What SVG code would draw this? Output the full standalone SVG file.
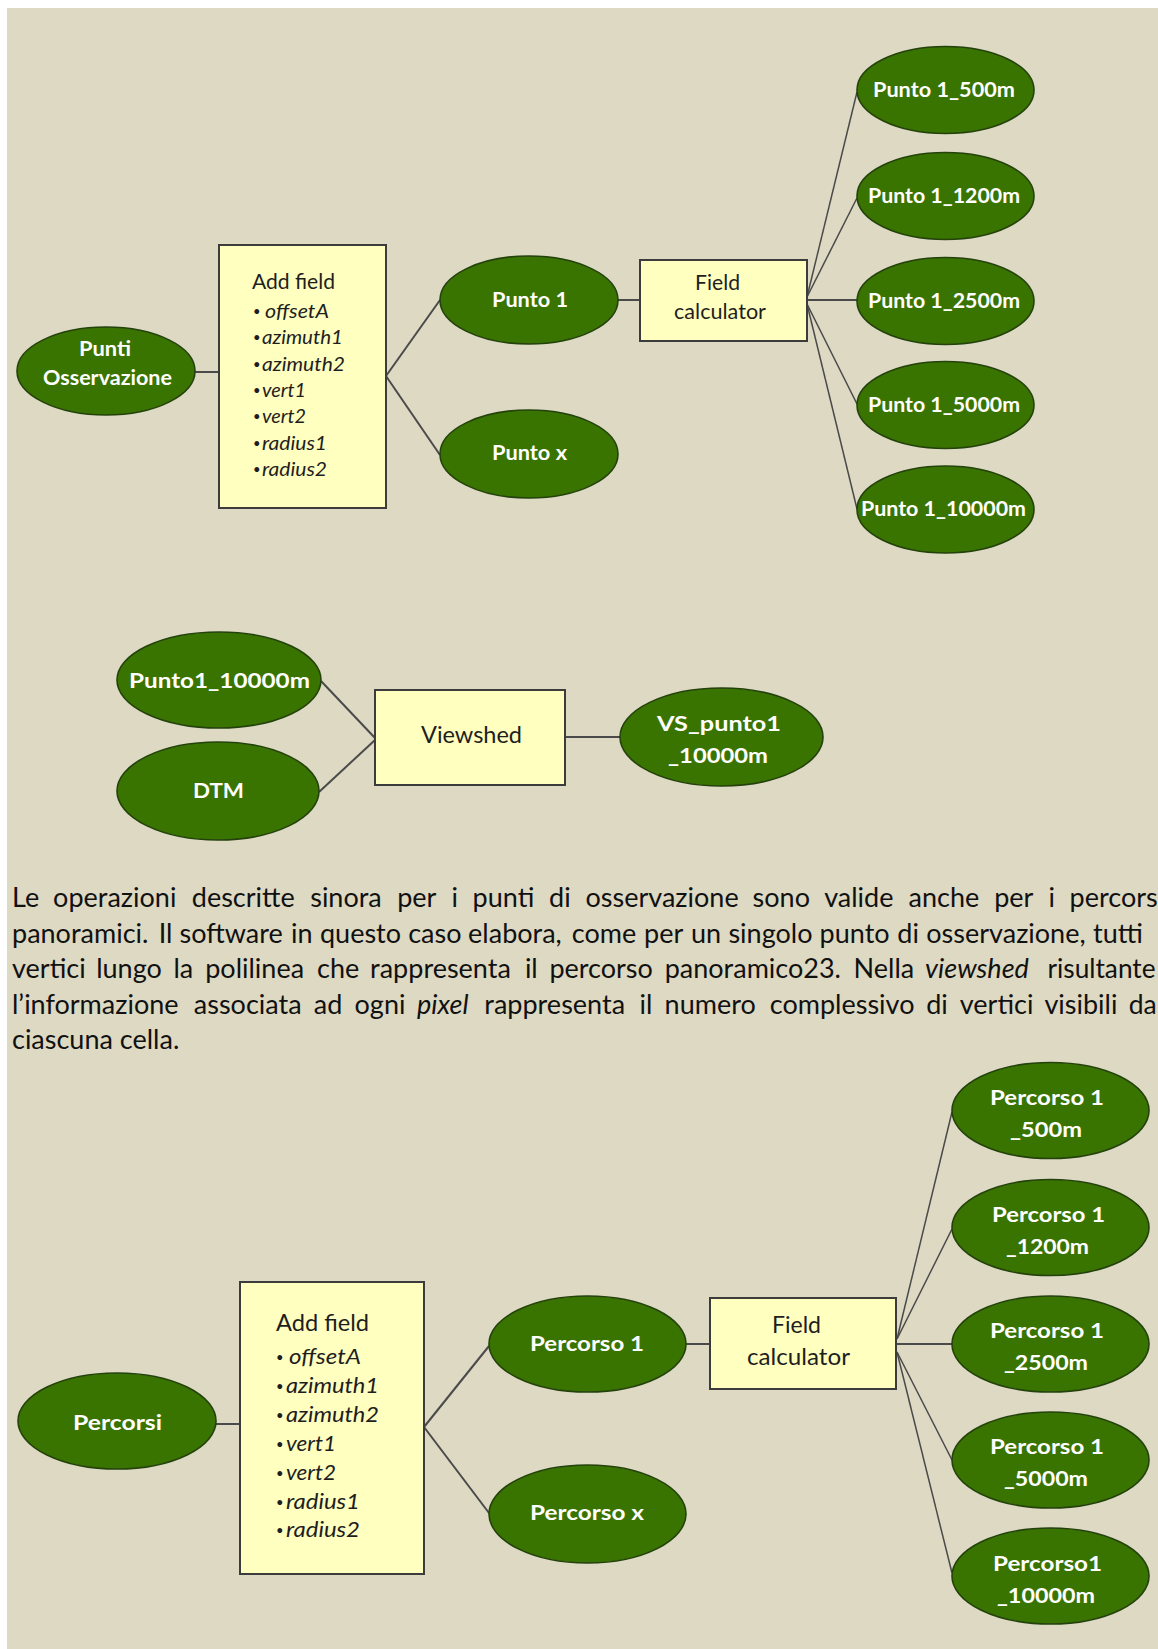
<svg xmlns="http://www.w3.org/2000/svg" width="1158" height="1649" viewBox="0 0 1158 1649">
<defs>
<style>
.bg{fill:#DDD9C3}
.ell{fill:#3A7400;stroke:#24420C;stroke-width:1.6}
.box{fill:#FFFFC0;stroke:#3C3C3C;stroke-width:2}
.lbl{font-family:Lato,"Open Sans",sans-serif;font-weight:bold;fill:#FFFFFF;font-size:20px}
.lbl2{font-family:Lato,"Open Sans",sans-serif;font-weight:bold;fill:#FFFFFF;font-size:21px}
.btxt{font-family:Lato,"Open Sans",sans-serif;fill:#1E1E1E;font-size:21px}
.btxt2{font-family:Lato,"Open Sans",sans-serif;fill:#1E1E1E;font-size:23px}
.li{font-family:Lato,"Open Sans",sans-serif;fill:#1E1E1E;font-size:19.5px}
.li2{font-family:Lato,"Open Sans",sans-serif;fill:#1E1E1E;font-size:22px}
.bu{font-size:13px}
.it{font-style:italic}
.par{font-family:Lato,"Open Sans",sans-serif;fill:#111111;font-size:27px}
.con{stroke:#4A4A4A;stroke-width:2;fill:none}
.fan{stroke:#4A4A4A;stroke-width:1.5;fill:none}
</style>
</defs>
<rect x="0" y="0" width="1158" height="1649" fill="#FFFFFF"/>
<rect class="bg" x="7" y="8" width="1151" height="1641"/>

<g id="connectors">
<line class="con" x1="195" y1="372" x2="219" y2="372"/>
<line class="con" x1="386" y1="376" x2="440" y2="300"/>
<line class="con" x1="386" y1="376" x2="440" y2="455"/>
<line class="con" x1="618" y1="300" x2="640" y2="300"/>
<line class="fan" x1="807" y1="297" x2="857" y2="92"/>
<line class="fan" x1="807" y1="297" x2="857" y2="198"/>
<line class="con" x1="807" y1="300" x2="857" y2="300"/>
<line class="fan" x1="807" y1="304" x2="857" y2="404"/>
<line class="fan" x1="807" y1="304" x2="857" y2="509"/>

<line class="con" x1="321" y1="681" x2="375" y2="738"/>
<line class="con" x1="319" y1="792" x2="375" y2="740"/>
<line class="con" x1="565" y1="737" x2="620" y2="737"/>

<line class="con" x1="216" y1="1424" x2="240" y2="1424"/>
<line class="con" x1="424" y1="1427" x2="489" y2="1346"/>
<line class="con" x1="424" y1="1427" x2="489" y2="1513"/>
<line class="con" x1="686" y1="1344" x2="710" y2="1344"/>
<line class="fan" x1="897" y1="1339" x2="952" y2="1112"/>
<line class="fan" x1="897" y1="1339" x2="952" y2="1229"/>
<line class="con" x1="896" y1="1344" x2="952" y2="1344"/>
<line class="fan" x1="897" y1="1352" x2="952" y2="1460"/>
<line class="fan" x1="897" y1="1352" x2="952" y2="1573"/>
</g>

<!-- Top diagram -->
<g id="punti-osservazione">
<ellipse class="ell" cx="106" cy="371" rx="89" ry="44"/>
<text class="lbl" x="79" y="356" textLength="52" lengthAdjust="spacingAndGlyphs">Punti</text>
<text class="lbl" x="43" y="385" textLength="129" lengthAdjust="spacingAndGlyphs">Osservazione</text>
</g>
<g id="add-field-1">
<rect class="box" x="219" y="245" width="167" height="263"/>
<text class="btxt" x="252" y="289" textLength="83" lengthAdjust="spacingAndGlyphs">Add field</text>
<text class="li"><tspan class="bu" x="253" y="316">•</tspan><tspan class="it" x="265" y="318" textLength="64" lengthAdjust="spacingAndGlyphs">offsetA</tspan></text>
<text class="li"><tspan class="bu" x="253" y="342.3">•</tspan><tspan class="it" x="262" y="344.3" textLength="81" lengthAdjust="spacingAndGlyphs">azimuth1</tspan></text>
<text class="li"><tspan class="bu" x="253" y="368.6">•</tspan><tspan class="it" x="262" y="370.6" textLength="83" lengthAdjust="spacingAndGlyphs">azimuth2</tspan></text>
<text class="li"><tspan class="bu" x="253" y="394.9">•</tspan><tspan class="it" x="262" y="396.9" textLength="44" lengthAdjust="spacingAndGlyphs">vert1</tspan></text>
<text class="li"><tspan class="bu" x="253" y="421.2">•</tspan><tspan class="it" x="262" y="423.2" textLength="44" lengthAdjust="spacingAndGlyphs">vert2</tspan></text>
<text class="li"><tspan class="bu" x="253" y="447.5">•</tspan><tspan class="it" x="262" y="449.5" textLength="65" lengthAdjust="spacingAndGlyphs">radius1</tspan></text>
<text class="li"><tspan class="bu" x="253" y="473.8">•</tspan><tspan class="it" x="262" y="475.8" textLength="65" lengthAdjust="spacingAndGlyphs">radius2</tspan></text>
</g>
<g id="punto-1">
<ellipse class="ell" cx="529" cy="300" rx="89" ry="44"/>
<text class="lbl" x="492" y="307" textLength="76" lengthAdjust="spacingAndGlyphs">Punto 1</text>
</g>
<g id="punto-x">
<ellipse class="ell" cx="529" cy="454" rx="89" ry="44"/>
<text class="lbl" x="492" y="460" textLength="75" lengthAdjust="spacingAndGlyphs">Punto x</text>
</g>
<g id="field-calculator-1">
<rect class="box" x="640" y="260" width="167" height="81"/>
<text class="btxt" x="695" y="290" textLength="45" lengthAdjust="spacingAndGlyphs">Field</text>
<text class="btxt" x="674" y="319" textLength="92" lengthAdjust="spacingAndGlyphs">calculator</text>
</g>
<g id="punto1-500m">
<ellipse class="ell" cx="945.5" cy="90" rx="88.5" ry="43.5"/>
<text class="lbl" x="873" y="96.5" textLength="142" lengthAdjust="spacingAndGlyphs">Punto 1_500m</text>
</g>
<g id="punto1-1200m">
<ellipse class="ell" cx="945.5" cy="196" rx="88.5" ry="43.5"/>
<text class="lbl" x="868" y="202.5" textLength="152" lengthAdjust="spacingAndGlyphs">Punto 1_1200m</text>
</g>
<g id="punto1-2500m">
<ellipse class="ell" cx="945.5" cy="301" rx="88.5" ry="43.5"/>
<text class="lbl" x="868" y="307.5" textLength="152" lengthAdjust="spacingAndGlyphs">Punto 1_2500m</text>
</g>
<g id="punto1-5000m">
<ellipse class="ell" cx="945.5" cy="405" rx="88.5" ry="43.5"/>
<text class="lbl" x="868" y="411.5" textLength="152" lengthAdjust="spacingAndGlyphs">Punto 1_5000m</text>
</g>
<g id="punto1-10000m">
<ellipse class="ell" cx="945.5" cy="509.5" rx="88.5" ry="43.5"/>
<text class="lbl" x="861" y="516" textLength="165" lengthAdjust="spacingAndGlyphs">Punto 1_10000m</text>
</g>

<!-- Middle diagram -->
<g id="punto1-10000m-input">
<ellipse class="ell" cx="219" cy="680" rx="102" ry="48"/>
<text class="lbl" x="129" y="688" textLength="181" lengthAdjust="spacingAndGlyphs">Punto1_10000m</text>
</g>
<g id="dtm">
<ellipse class="ell" cx="218" cy="791" rx="101" ry="49"/>
<text class="lbl" x="193" y="798" textLength="51" lengthAdjust="spacingAndGlyphs">DTM</text>
</g>
<g id="viewshed">
<rect class="box" x="375" y="690" width="190" height="95"/>
<text class="btxt2" x="421" y="743" textLength="101" lengthAdjust="spacingAndGlyphs">Viewshed</text>
</g>
<g id="vs-punto1">
<ellipse class="ell" cx="721.5" cy="737" rx="101.5" ry="49"/>
<text class="lbl" x="657" y="731" textLength="124" lengthAdjust="spacingAndGlyphs">VS_punto1</text>
<text class="lbl" x="668" y="763" textLength="100" lengthAdjust="spacingAndGlyphs">_10000m</text>
</g>

<!-- Paragraph -->
<g id="paragraph">
<text class="par"><tspan x="12" y="907">Le</tspan><tspan x="53.1">operazioni</tspan><tspan x="191.8">descritte</tspan><tspan x="310.2">sinora</tspan><tspan x="397.2">per</tspan><tspan x="451.5">i</tspan><tspan x="472.6">punti</tspan><tspan x="549.1">di</tspan><tspan x="585.5">osservazione</tspan><tspan x="752.6">sono</tspan><tspan x="824.2">valide</tspan><tspan x="908.6">anche</tspan><tspan x="994.2">per</tspan><tspan x="1048.5">i</tspan><tspan x="1069.6">percors</tspan></text>
<text class="par"><tspan x="12" y="942.5">panoramici.</tspan><tspan x="158.7">Il</tspan><tspan x="179.6">software</tspan><tspan x="291">in</tspan><tspan x="320">questo</tspan><tspan x="408.2">caso</tspan><tspan x="468.1">elabora,</tspan><tspan x="571.8">come</tspan><tspan x="644.1">per</tspan><tspan x="690.9">un</tspan><tspan x="728.4">singolo</tspan><tspan x="819.6">punto</tspan><tspan x="897.3">di</tspan><tspan x="926.3">osservazione,</tspan><tspan x="1093.1">tutti</tspan></text>
<text class="par"><tspan x="12" y="978">vertici</tspan><tspan x="96.2">lungo</tspan><tspan x="173.5">la</tspan><tspan x="205.2">polilinea</tspan><tspan x="317">che</tspan><tspan x="370.1">rappresenta</tspan><tspan x="524.9">il</tspan><tspan x="549.4">percorso</tspan><tspan x="664.7">panoramico23.</tspan><tspan x="853.6">Nella</tspan><tspan class="it" x="925.1">viewshed</tspan><tspan x="1047.5" textLength="108" lengthAdjust="spacingAndGlyphs">risultante</tspan></text>
<text class="par"><tspan x="12" y="1013.5">l’informazione</tspan><tspan x="193.8">associata</tspan><tspan x="313.8">ad</tspan><tspan x="354.6">ogni</tspan><tspan class="it" x="417.1">pixel</tspan><tspan x="484.3">rappresenta</tspan><tspan x="639.6">il</tspan><tspan x="664.6">numero</tspan><tspan x="769.8">complessivo</tspan><tspan x="926.2">di</tspan><tspan x="959.8">vertici</tspan><tspan x="1044.4">visibili</tspan><tspan x="1128.7" textLength="28" lengthAdjust="spacingAndGlyphs">da</tspan></text>
<text class="par" x="12" y="1049">ciascuna cella.</text>
</g>

<!-- Bottom diagram -->
<g id="percorsi">
<ellipse class="ell" cx="117" cy="1421" rx="99" ry="48"/>
<text class="lbl2" x="73" y="1430" textLength="89" lengthAdjust="spacingAndGlyphs">Percorsi</text>
</g>
<g id="add-field-2">
<rect class="box" x="240" y="1282" width="184" height="292"/>
<text class="btxt2" x="276" y="1331" textLength="93" lengthAdjust="spacingAndGlyphs">Add field</text>
<text class="li2"><tspan class="bu" x="276" y="1362">•</tspan><tspan class="it" x="289" y="1364" textLength="72" lengthAdjust="spacingAndGlyphs">offsetA</tspan></text>
<text class="li2"><tspan class="bu" x="276" y="1390.9">•</tspan><tspan class="it" x="286" y="1392.9" textLength="93" lengthAdjust="spacingAndGlyphs">azimuth1</tspan></text>
<text class="li2"><tspan class="bu" x="276" y="1419.8">•</tspan><tspan class="it" x="286" y="1421.8" textLength="93" lengthAdjust="spacingAndGlyphs">azimuth2</tspan></text>
<text class="li2"><tspan class="bu" x="276" y="1448.7">•</tspan><tspan class="it" x="286" y="1450.7" textLength="50" lengthAdjust="spacingAndGlyphs">vert1</tspan></text>
<text class="li2"><tspan class="bu" x="276" y="1477.6">•</tspan><tspan class="it" x="286" y="1479.6" textLength="50" lengthAdjust="spacingAndGlyphs">vert2</tspan></text>
<text class="li2"><tspan class="bu" x="276" y="1506.5">•</tspan><tspan class="it" x="286" y="1508.5" textLength="74" lengthAdjust="spacingAndGlyphs">radius1</tspan></text>
<text class="li2"><tspan class="bu" x="276" y="1535.4">•</tspan><tspan class="it" x="286" y="1537.4" textLength="74" lengthAdjust="spacingAndGlyphs">radius2</tspan></text>
</g>
<g id="percorso-1">
<ellipse class="ell" cx="587.5" cy="1344" rx="98.5" ry="48"/>
<text class="lbl2" x="530" y="1351" textLength="114" lengthAdjust="spacingAndGlyphs">Percorso 1</text>
</g>
<g id="percorso-x">
<ellipse class="ell" cx="587.5" cy="1514" rx="98.5" ry="49"/>
<text class="lbl2" x="530" y="1520" textLength="114" lengthAdjust="spacingAndGlyphs">Percorso x</text>
</g>
<g id="field-calculator-2">
<rect class="box" x="710" y="1298" width="186" height="91"/>
<text class="btxt2" x="772" y="1333" textLength="49" lengthAdjust="spacingAndGlyphs">Field</text>
<text class="btxt2" x="747" y="1365" textLength="103" lengthAdjust="spacingAndGlyphs">calculator</text>
</g>
<g id="percorso1-500m">
<ellipse class="ell" cx="1050.5" cy="1110.5" rx="98.5" ry="48"/>
<text class="lbl2" x="990" y="1105" textLength="114" lengthAdjust="spacingAndGlyphs">Percorso 1</text>
<text class="lbl2" x="1010" y="1137" textLength="72" lengthAdjust="spacingAndGlyphs">_500m</text>
</g>
<g id="percorso1-1200m">
<ellipse class="ell" cx="1050.5" cy="1227.5" rx="98.5" ry="48"/>
<text class="lbl2" x="992" y="1222" textLength="113" lengthAdjust="spacingAndGlyphs">Percorso 1</text>
<text class="lbl2" x="1006" y="1254" textLength="83" lengthAdjust="spacingAndGlyphs">_1200m</text>
</g>
<g id="percorso1-2500m">
<ellipse class="ell" cx="1050.5" cy="1344" rx="98.5" ry="48"/>
<text class="lbl2" x="990" y="1338" textLength="114" lengthAdjust="spacingAndGlyphs">Percorso 1</text>
<text class="lbl2" x="1004" y="1370" textLength="84" lengthAdjust="spacingAndGlyphs">_2500m</text>
</g>
<g id="percorso1-5000m">
<ellipse class="ell" cx="1050.5" cy="1460" rx="98.5" ry="48"/>
<text class="lbl2" x="990" y="1454" textLength="114" lengthAdjust="spacingAndGlyphs">Percorso 1</text>
<text class="lbl2" x="1004" y="1486" textLength="84" lengthAdjust="spacingAndGlyphs">_5000m</text>
</g>
<g id="percorso1-10000m">
<ellipse class="ell" cx="1050.5" cy="1576" rx="98.5" ry="48"/>
<text class="lbl2" x="993" y="1571" textLength="109" lengthAdjust="spacingAndGlyphs">Percorso1</text>
<text class="lbl2" x="997" y="1603" textLength="98" lengthAdjust="spacingAndGlyphs">_10000m</text>
</g>
</svg>
